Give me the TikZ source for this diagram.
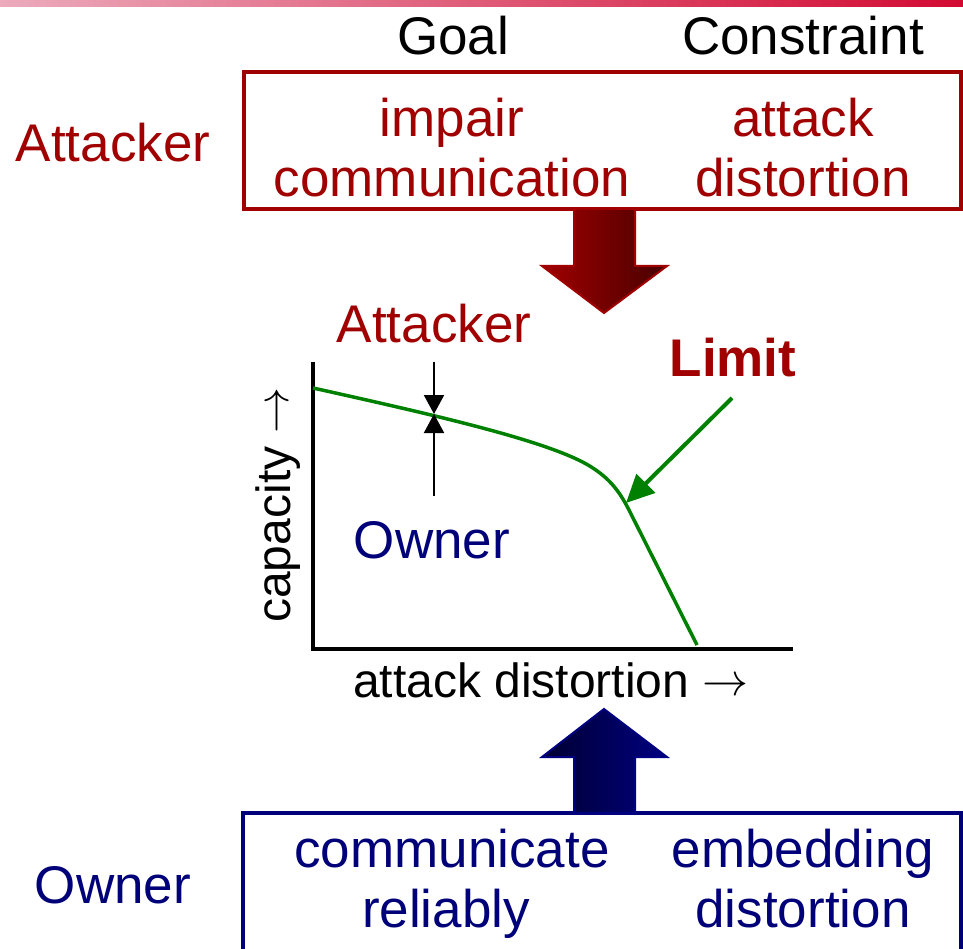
\documentclass[tikz,border=0pt]{standalone}
\usepackage{fontspec}
\setmainfont{Liberation Sans}
\newcommand\bigarrow{\raisebox{2pt}{\scalebox{4.6}{\fontsize{10pt}{12pt}\selectfont$\rightarrow$}}}
\usetikzlibrary{arrows.meta}
\definecolor{attred}{RGB}{160,0,0}
\definecolor{ownblue}{RGB}{0,0,120}
\definecolor{gr}{RGB}{0,128,0}
\definecolor{darkred}{RGB}{72,0,0}
\definecolor{darkblue}{RGB}{0,0,50}
\definecolor{navyb}{RGB}{0,0,128}
\definecolor{pinkbar}{RGB}{236,170,188}
\definecolor{crimsonbar}{RGB}{210,10,50}
\begin{document}
\begin{tikzpicture}[x=1pt,y=-1pt,
  big/.style={font=\fontsize{53pt}{61pt}\selectfont, inner sep=0pt, anchor=base},
  mid/.style={font=\fontsize{48pt}{56pt}\selectfont, inner sep=0pt, anchor=base},
  boxline/.style={line width=3.5pt},
  axis/.style={line width=3.5pt, black},
  curve/.style={gr, line width=3.5pt},
  marker/.style={line width=2pt, black, -{Triangle[width=20pt,length=19pt]}},
  blockred/.style={draw=attred, line width=2pt, left color=attred, right color=darkred},
  blockblue/.style={draw=navyb, line width=2pt, left color=darkblue, right color=navyb}]
\useasboundingbox (0,0) rectangle (963,949);
% top bar
\shade[left color=pinkbar, right color=crimsonbar] (0,0) rectangle (963,7);
% headings
\node[big] (goal) at (453,55) {Goal};
\node[big] (constr) at (803,55) {Constraint};
% attacker box
\coordinate (abl) at (244,72);
\coordinate (abr) at (961,209);
\draw[boxline, attred] (abl) rectangle (abr);
\node[big, attred] (attL) at (113,162) {Attacker};
\node[big, attred] (imp) at (452,137) {impair};
\node[big, attred] (comm) at (452,197) {communication};
\node[big, attred] (att) at (803,137) {attack};
\node[big, attred] (dist1) at (803,197) {distortion};
% owner box
\coordinate (obl) at (243,813);
\coordinate (obr) at (961,965);
\draw[boxline, ownblue] (obl) rectangle (obr);
\node[big, ownblue] (ownL) at (113,903) {Owner};
\node[big, ownblue] (commr) at (452,867) {communicate};
\node[big, ownblue] (rel) at (446,927) {reliably};
\node[big, ownblue] (emb) at (803,867) {embedding};
\node[big, ownblue] (dist2) at (803,927) {distortion};
% block arrows
\draw[blockred] (574,209) -- (635,209) -- (635,266) -- (667,266) -- (604,313) -- (542,266) -- (574,266) -- cycle;
\draw[blockblue] (604,709) -- (667,757) -- (635,757) -- (635,813) -- (574,813) -- (574,757) -- (542,757) -- cycle;
% graph
\coordinate (ytop) at (313,362);
\coordinate (O) at (313,649);
\coordinate (xend) at (793,649);
\draw[axis] (ytop) -- (O) -- (xend);
\draw[curve] (313,388) .. controls (430,414) and (545,440) .. (588,465)
  .. controls (610,478) and (620,492) .. (630,512) -- (697,645);
\node[mid, rotate=90] (cap) at (290,505) {capacity \bigarrow};
\node[mid] (xlab) at (551,697) {attack distortion \bigarrow};
% attacker / owner markers
\coordinate (meet) at (434,414);
\coordinate (mtop) at (434,362);
\coordinate (mbot) at (434,496);
\draw[marker] (mtop) -- (meet);
\draw[marker] (mbot) -- (meet);
\node[big, attred] (attG) at (434,342) {Attacker};
\node[big, ownblue] (ownG) at (432,558) {Owner};
% limit
\node[big, attred, font=\fontsize{53pt}{61pt}\selectfont\bfseries] (lim) at (733,376) {Limit};
\coordinate (lstart) at (732,398);
\coordinate (ltip) at (626,503);
\draw[gr, line width=4pt, -{Triangle[width=26pt,length=28pt]}] (lstart) -- (ltip);
\end{tikzpicture}
\end{document}
